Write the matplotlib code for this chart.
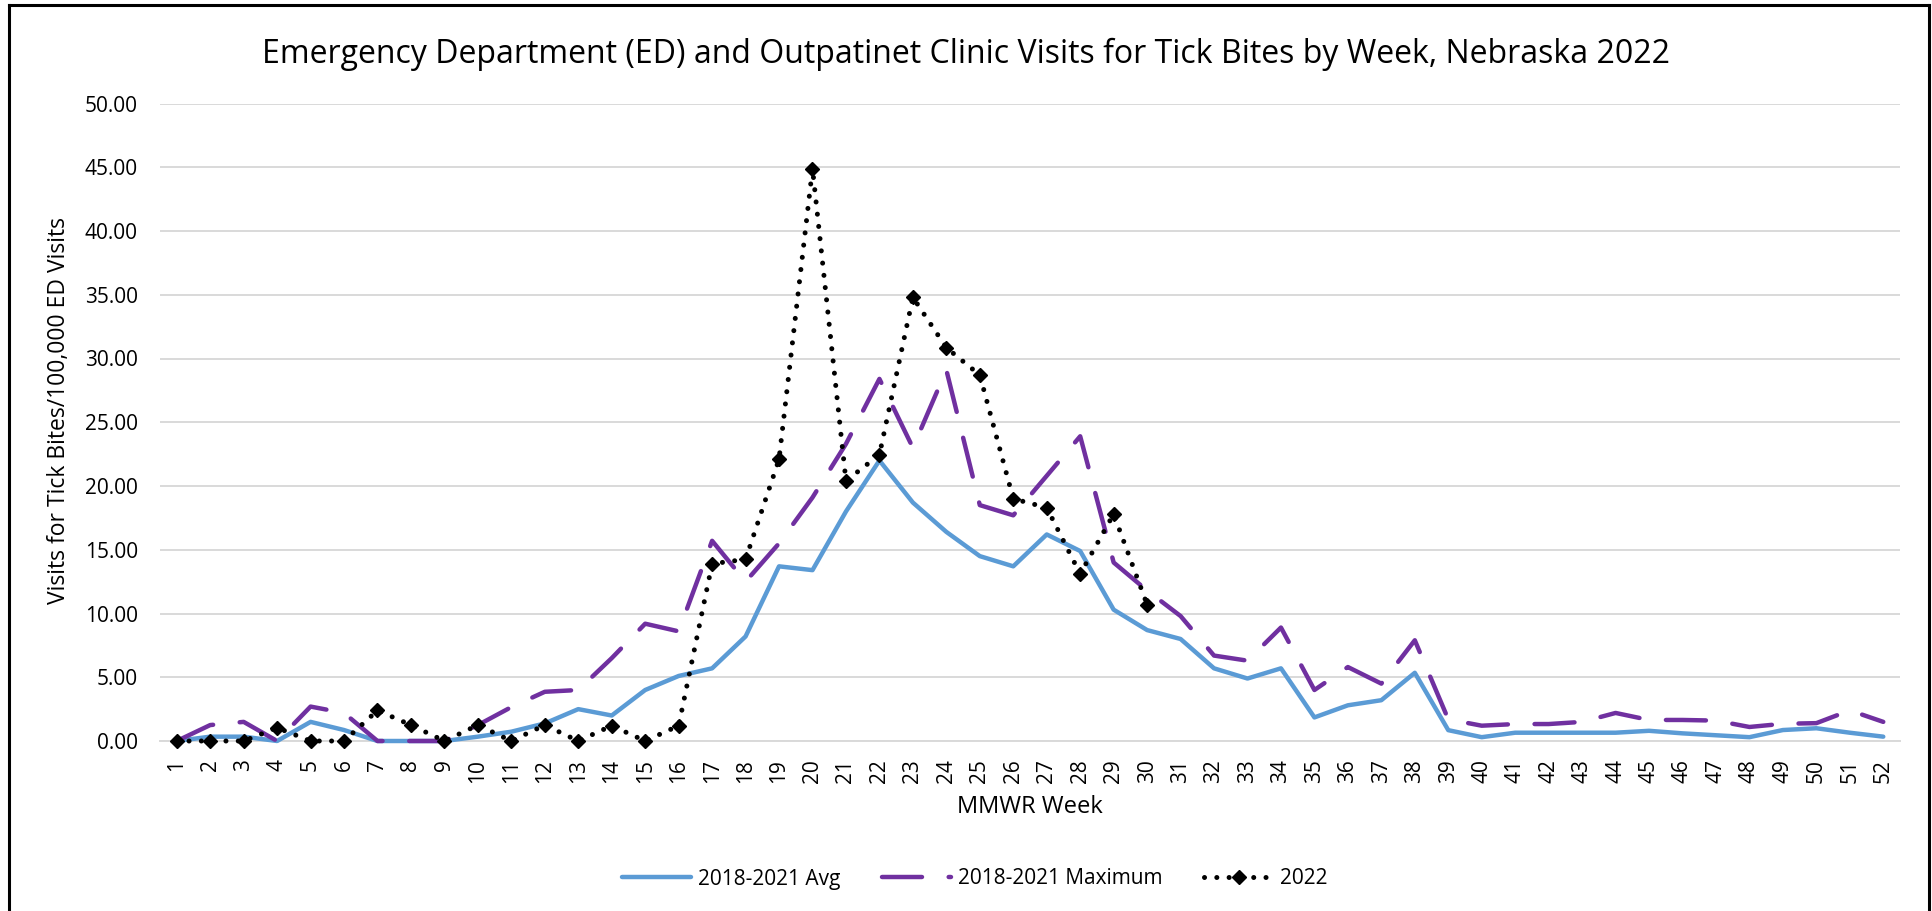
import numpy as np
import matplotlib.pyplot as plt
from matplotlib.ticker import FormatStrFormatter

plt.rcParams['font.family'] = ['Open Sans', 'DejaVu Sans']

# MMWR weeks
weeks = list(range(1, 53))

# 2018-2021 average visits per 100,000 ED visits
avg_2018_2021 = [0.0, 0.34, 0.34, 0.0, 1.5, 0.86, 0.0, 0.0, 0.0, 0.34,
                 0.73, 1.38, 2.5, 2.0, 4.0, 5.1, 5.7, 8.2, 13.7, 13.4,
                 18.0, 22.0, 18.7, 16.4, 14.5, 13.7, 16.2, 14.9, 10.3, 8.7,
                 8.0, 5.7, 4.9, 5.7, 1.85, 2.8, 3.2, 5.35, 0.85, 0.3,
                 0.65, 0.65, 0.65, 0.65, 0.8, 0.6, 0.45, 0.3, 0.86, 1.0,
                 0.65, 0.34]

# 2018-2021 maximum
max_2018_2021 = [0.0, 1.25, 1.5, 0.0, 2.7, 2.2, 0.0, 0.0, 0.0, 1.25,
                 2.66, 3.86, 4.0, 6.5, 9.2, 8.6, 15.7, 12.5, 15.5, 19.1,
                 23.3, 28.4, 23.0, 29.1, 18.5, 17.7, 20.8, 23.9, 14.0, 11.8,
                 9.8, 6.7, 6.3, 8.9, 4.0, 5.8, 4.5, 7.9, 1.7, 1.2,
                 1.33, 1.33, 1.5, 2.2, 1.65, 1.65, 1.6, 1.1, 1.35, 1.4,
                 2.4, 1.5]

# 2022 (reported through week 30)
weeks_2022 = list(range(1, 31))
visits_2022 = [0.0, 0.0, 0.0, 1.04, 0.0, 0.0, 2.4, 1.25, 0.0, 1.25,
               0.0, 1.25, 0.0, 1.2, 0.0, 1.2, 13.9, 14.25, 22.1, 44.9,
               20.4, 22.45, 34.8, 30.85, 28.7, 19.0, 18.3, 13.1, 17.8, 10.7]

W, H = 1933, 911
fig = plt.figure(figsize=(W / 100, H / 100), dpi=100)
ax = fig.add_axes([160 / W, 1 - 741 / H, (1900 - 160) / W, (741 - 103.5) / H])

ax.plot(weeks, avg_2018_2021, color='#5B9BD5', lw=3.2,
        solid_joinstyle='round', solid_capstyle='round', clip_on=False,
        label='2018-2021 Avg', zorder=3)
ax.plot(weeks, max_2018_2021, color='#7030A0', lw=3.2,
        linestyle=(0, (9.0, 6.0)), dash_capstyle='round',
        dash_joinstyle='round', clip_on=False,
        label='2018-2021 Maximum', zorder=4)
ax.plot(weeks_2022, visits_2022, color='black', lw=3.6,
        linestyle=(0, (0.01, 2.45)), dash_capstyle='round',
        marker='D', ms=7.5, mfc='black', mec='black', clip_on=False,
        label='2022', zorder=5)

ax.set_xlim(0.5, 52.5)
ax.set_ylim(0, 50)
ax.set_yticks(np.arange(0, 50.1, 5))
ax.yaxis.set_major_formatter(FormatStrFormatter('%.2f'))
ax.set_xticks(weeks)
ax.set_xticklabels([str(w) for w in weeks], rotation=90)
ax.tick_params(axis='both', length=0, labelsize=15)
ax.tick_params(axis='y', pad=16)
ax.tick_params(axis='x', pad=13)
ax.grid(axis='y', color='#D9D9D9', lw=1.4, zorder=0)
ax.set_axisbelow(True)
for s in ['top', 'right', 'left']:
    ax.spines[s].set_visible(False)
ax.spines['bottom'].set_color('#D9D9D9')
ax.spines['bottom'].set_linewidth(1.4)

fig.text(0.5, 1 - 54 / H,
         'Emergency Department (ED) and Outpatinet Clinic Visits for Tick Bites by Week, Nebraska 2022',
         ha='center', va='center', fontsize=23)
fig.text(59 / W, 1 - 410 / H, 'Visits for Tick Bites/100,000 ED Visits',
         rotation=90, ha='center', va='center', fontsize=16.5)
fig.text(1030 / W, 1 - 807 / H, 'MMWR Week', ha='center', va='center', fontsize=17)

fig.legend(loc='center', bbox_to_anchor=(975 / W, 1 - 879 / H), ncol=3,
           frameon=False, fontsize=15, handlelength=3.3, handletextpad=0.35,
           columnspacing=2.0)

# outer chart border
fig.add_artist(plt.Line2D([9 / W, 9 / W], [0, 1 - 5 / H], color='black', lw=2.2))
fig.add_artist(plt.Line2D([1929 / W, 1929 / W], [0, 1 - 5 / H], color='black', lw=2.2))
fig.add_artist(plt.Line2D([9 / W, 1929 / W], [1 - 5 / H, 1 - 5 / H], color='black', lw=2.2))

fig.savefig('out.png', dpi=100)
